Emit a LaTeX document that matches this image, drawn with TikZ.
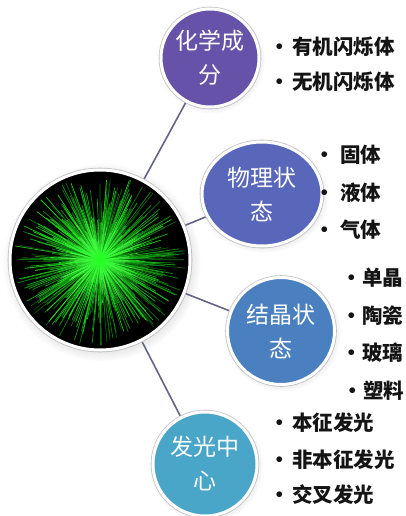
\documentclass[tikz,border=0pt]{standalone}
\usepackage{fontspec}
\newfontfamily\cjk{Noto Sans CJK SC}
\usetikzlibrary{calc,shapes.geometric,backgrounds,shadows}

\definecolor{cA}{HTML}{6652A8}
\definecolor{cB}{HTML}{5867BA}
\definecolor{cC}{HTML}{4A80C0}
\definecolor{cD}{HTML}{4AA6C8}
\definecolor{linkcol}{HTML}{646488}
\definecolor{ring}{HTML}{C8C8CC}
\definecolor{burst}{HTML}{22FF22}

\tikzset{
  bubble/.style={circle, inner sep=0pt, text=white, align=center,
    font=\cjk\fontsize{23}{34}\selectfont,
    draw=white, line width=3pt,
    preaction={draw=ring, line width=4.6pt},
    circular drop shadow={shadow xshift=1pt, shadow yshift=-1.5pt, opacity=0.18}},
  link/.style={draw=linkcol, line width=1.6pt},
  item/.style={anchor=west, inner sep=0pt, text=black!92,
    font=\cjk\bfseries\fontsize{20.5}{25}\selectfont},
}

\begin{document}
\begin{tikzpicture}[x=1pt, y=-1pt]
  \useasboundingbox (0,0) rectangle (406,516);

  % hub disc
  \node[circle, inner sep=0pt, minimum size=180pt, fill=black,
        draw=white, line width=3pt, preaction={draw=ring, line width=4.6pt},
        circular drop shadow={shadow xshift=1.5pt, shadow yshift=-2pt, opacity=0.25}]
        (hub) at (100,260) {};

  % radiating green rays
  \begin{scope}
    \clip (hub.center) circle (88);
    \pgfmathsetseed{42}
    \foreach \i in {1,...,600}{
      \pgfmathsetmacro\a{rnd*360}
      \pgfmathsetmacro\l{22+rnd*64}
      \pgfmathsetmacro\s{rnd*12}
      \pgfmathsetmacro\g{35+rnd*65}
      \draw[burst!\g!black, line width=0.7pt, opacity=0.8]
        ($(hub.center)+(\a:\s)$) -- ($(hub.center)+(\a:\l)$);
    }
    \foreach \i in {1,...,200}{
      \pgfmathsetmacro\a{rnd*360}
      \pgfmathsetmacro\l{15+rnd*30}
      \draw[burst!80!white, line width=0.6pt, opacity=0.6]
        (hub.center) -- ($(hub.center)+(\a:\l)$);
    }
    \foreach \r/\o in {24/0.12, 16/0.2, 11/0.3, 7/0.5, 4/0.85}
      \fill[burst, opacity=\o] (hub.center) circle (\r);
  \end{scope}

  % category bubbles
  \node[bubble, fill=cA, minimum size=98pt] (chem) at (210,58) {化学成\\分};
  \node[bubble, ellipse, fill=cB, minimum width=120pt, minimum height=104pt,
        circular drop shadow={shadow xshift=1pt, shadow yshift=-1.5pt, opacity=0}]
        (phase) at (262,194) {物理状\\态};
  \node[bubble, fill=cC, minimum size=107pt] (cryst) at (281,331) {结晶状\\态};
  \node[bubble, fill=cD, minimum size=104pt] (lum) at (205,464) {发光中\\心};

  % page ground and connectors, kept behind the bubbles
  \begin{pgfonlayer}{background}
    \fill[white] (0,0) rectangle (406,516);
    \draw[link] (hub.center) -- (chem.center);
    \draw[link] (hub.center) -- (phase.center);
    \draw[link] (hub.center) -- (cryst.center);
    \draw[link] (hub.center) -- (lum.center);
  \end{pgfonlayer}

  % bullet lists
  \node[item] (a1) at (269.75,47) {•\hspace{1.75pt}有机闪烁体};
  \node[item] (a2) at (269.75,82) {•\hspace{1.75pt}无机闪烁体};

  \node[item] (b1) at (314.75,155) {•\hspace{4.75pt}固体};
  \node[item] (b2) at (314.75,193) {•\hspace{4.75pt}液体};
  \node[item] (b3) at (314.75,230) {•\hspace{4.75pt}气体};

  \node[item] (c1) at (341.75,278) {•\hspace{-0.25pt}单晶};
  \node[item] (c2) at (341.75,316) {•\hspace{-0.25pt}陶瓷};
  \node[item] (c3) at (341.75,353) {•\hspace{-0.25pt}玻璃};
  \node[item] (c4) at (342.75,391) {•\hspace{-0.25pt}塑料};

  \node[item] (d1) at (269.75,423) {•\hspace{1.75pt}本征发光};
  \node[item] (d2) at (269.75,460) {•\hspace{1.75pt}非本征发光};
  \node[item] (d3) at (269.75,495) {•\hspace{1.75pt}交叉发光};
\end{tikzpicture}
\end{document}
